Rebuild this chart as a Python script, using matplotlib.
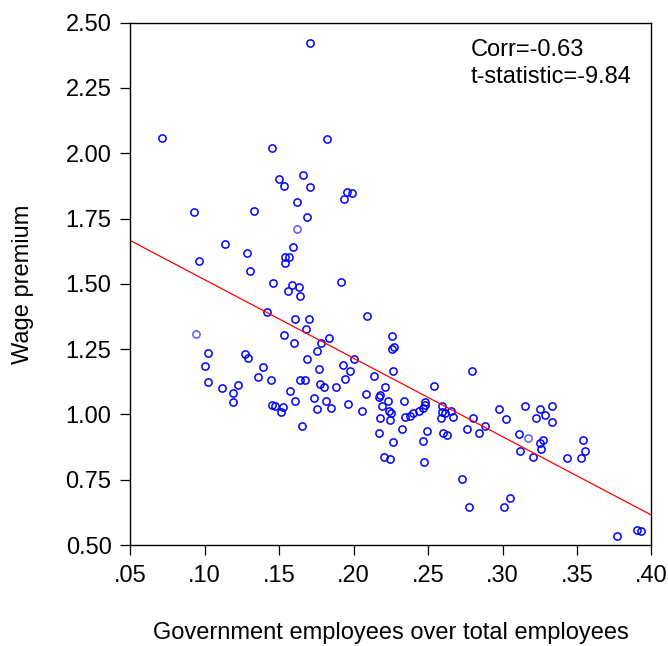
import numpy as np
import matplotlib
matplotlib.use("Agg")
from matplotlib import pyplot as plt

plt.rcParams['font.family'] = ['Liberation Sans', 'DejaVu Sans']

#! Data: share of government employees vs wage premium
gov_share = [
    0.1707, 0.0713, 0.182, 0.1453, 0.150, 0.1663, 0.1532, 0.171, 0.1953, 0.1991,
    0.1935, 0.1623, 0.093, 0.133, 0.1686, 0.1139, 0.1285, 0.0962, 0.159, 0.1538,
    0.1565, 0.1538, 0.1305, 0.146, 0.1587, 0.1912, 0.1558, 0.163, 0.1639,
    0.1415, 0.209, 0.1603, 0.1697, 0.1682, 0.1532, 0.1834, 0.226, 0.1782, 0.160,
    0.2271, 0.226, 0.1751, 0.102, 0.2002, 0.1271, 0.1294, 0.1688, 0.1002, 0.1928,
    0.139, 0.1769, 0.1973, 0.2262, 0.2134, 0.1357, 0.1942, 0.1023, 0.1444, 0.1641,
    0.1673, 0.1774, 0.1798, 0.1885, 0.1115, 0.1224, 0.1191, 0.2211, 0.1576,
    0.2083, 0.2179, 0.217, 0.1733, 0.1606, 0.1816, 0.1189, 0.2231, 0.1964, 0.1453,
    0.1475, 0.1527, 0.2188, 0.1756, 0.1848, 0.1509, 0.2053, 0.2238, 0.2249,
    0.2179, 0.2244, 0.1655, 0.2168, 0.2265, 0.2206, 0.2246,
    0.2798, 0.2538, 0.2336, 0.2482, 0.2477, 0.2464, 0.2437, 0.2396, 0.2381,
    0.2343, 0.2596, 0.2594, 0.2611, 0.2655, 0.2587, 0.2665, 0.2327, 0.2495,
    0.2601, 0.2625, 0.2464, 0.2473, 0.2764, 0.2803, 0.2845, 0.2885, 0.2726,
    0.2776, 0.2975, 0.3025, 0.3152, 0.3109, 0.3119, 0.3206, 0.3053, 0.3013,
    0.3253, 0.3226, 0.3282, 0.3334, 0.3329, 0.3253, 0.3269, 0.3257, 0.3432,
    0.354, 0.3556, 0.3529, 0.3771, 0.3901, 0.3928,
]
wage_premium = [
    2.422, 2.059, 2.054, 2.019, 1.900, 1.917, 1.874, 1.872, 1.851, 1.847,
    1.824, 1.815, 1.776, 1.779, 1.756, 1.652, 1.617, 1.586, 1.642, 1.601,
    1.602, 1.579, 1.550, 1.503, 1.496, 1.508, 1.471, 1.486, 1.454,
    1.392, 1.378, 1.365, 1.365, 1.328, 1.304, 1.293, 1.299, 1.273, 1.273,
    1.259, 1.251, 1.242, 1.237, 1.211, 1.230, 1.217, 1.214, 1.185, 1.189,
    1.180, 1.172, 1.166, 1.165, 1.148, 1.143, 1.135, 1.123, 1.130, 1.133,
    1.131, 1.117, 1.104, 1.104, 1.102, 1.112, 1.083, 1.106, 1.091,
    1.078, 1.074, 1.068, 1.061, 1.052, 1.052, 1.048, 1.050, 1.038, 1.035,
    1.032, 1.029, 1.031, 1.022, 1.023, 1.008, 1.015, 1.014, 1.006,
    0.987, 0.978, 0.957, 0.930, 0.895, 0.836, 0.828,
    1.167, 1.107, 1.052, 1.048, 1.036, 1.023, 1.013, 1.004, 0.994,
    0.989, 1.033, 1.009, 1.006, 1.014, 0.986, 0.989, 0.944, 0.937,
    0.930, 0.921, 0.897, 0.818, 0.944, 0.987, 0.927, 0.957, 0.751,
    0.645, 1.020, 0.981, 1.032, 0.924, 0.859, 0.838, 0.680, 0.644,
    1.019, 0.985, 0.998, 1.032, 0.971, 0.892, 0.901, 0.869, 0.832,
    0.904, 0.861, 0.832, 0.534, 0.556, 0.555,
]
# a few circles are drawn paler in the original
pale_share = [0.1619, 0.094, 0.3172]
pale_premium = [1.709, 1.306, 0.909]

x_ticks = [0.05, 0.10, 0.15, 0.20, 0.25, 0.30, 0.35, 0.40]
x_labels = ['.05', '.10', '.15', '.20', '.25', '.30', '.35', '.40']
y_ticks = [0.50, 0.75, 1.00, 1.25, 1.50, 1.75, 2.00, 2.25, 2.50]
y_labels = ['%.2f' % v for v in y_ticks]

corr_text = 'Corr=-0.63\nt-statistic=-9.84'

all_x = np.array(gov_share + pale_share)
all_y = np.array(wage_premium + pale_premium)
slope, intercept = np.polyfit(all_x, all_y, 1)

fig = plt.figure(figsize=(6.68, 6.46), dpi=100)
ax = fig.add_axes([0.1950, 0.1563, 0.7802, 0.8087])

ax.plot(gov_share, wage_premium, 'o', mfc='none', mec='#0000ff', ms=5.2, mew=1.1)
ax.plot(pale_share, pale_premium, 'o', mfc='none', mec='#5a5aff', ms=5.2, mew=1.1)

#! fitted line across the full x range
line_x = np.array([x_ticks[0], x_ticks[-1]])
ax.plot(line_x, intercept + slope * line_x, color='#ff0000', lw=0.9)

ax.set_xlim(x_ticks[0], x_ticks[-1])
ax.set_ylim(y_ticks[0], y_ticks[-1])
ax.set_xticks(x_ticks)
ax.set_xticklabels(x_labels)
ax.set_yticks(y_ticks)
ax.set_yticklabels(y_labels)
ax.tick_params(direction='out', length=7.5, width=0.9, labelsize=17, pad=6)
ax.tick_params(axis='x', pad=7)

for s in ax.spines.values():
    s.set_linewidth(1.0)

ax.set_xlabel('Government employees over total employees', fontsize=17, labelpad=25)
ax.set_ylabel('Wage premium', fontsize=17, labelpad=23)

ax.text(0.654, 0.968, corr_text, transform=ax.transAxes, fontsize=17,
        va='top', ha='left', linespacing=1.3)

fig.savefig('out.png', dpi=100)
